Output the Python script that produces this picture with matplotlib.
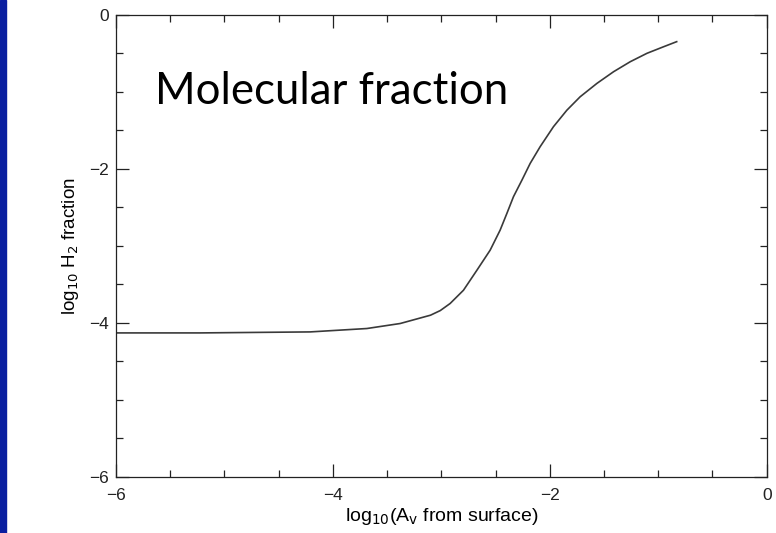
import numpy as np
import matplotlib
matplotlib.use("Agg")
import matplotlib.pyplot as plt
from matplotlib.ticker import MultipleLocator

# log10(Av from surface) and log10 H2 fraction
log_av = [-6.0, -5.225, -4.21, -3.687, -3.38, -3.10, -3.01, -2.919, -2.796,
          -2.672, -2.550, -2.458, -2.396, -2.335, -2.257, -2.181, -2.089,
          -1.966, -1.843, -1.72, -1.565, -1.412, -1.258, -1.104, -0.951, -0.83]
log_h2 = [-4.13, -4.13, -4.117, -4.073, -4.008, -3.90, -3.84, -3.748, -3.576,
          -3.316, -3.056, -2.796, -2.580, -2.362, -2.147, -1.930, -1.713,
          -1.453, -1.240, -1.065, -0.891, -0.740, -0.610, -0.501, -0.416, -0.35]

plt.rcParams['font.family'] = ['Liberation Sans', 'DejaVu Sans']

fig = plt.figure(figsize=(7.76, 5.33), dpi=100)
fig.patches.append(plt.Rectangle((0, 0), 6 / 776, 1, transform=fig.transFigure,
                                 color='#0a1fa0', zorder=0))

ax = fig.add_axes([116 / 776, 1 - 477 / 533, 650.7 / 776, 462.3 / 533])
ax.plot(log_av, log_h2, color='#3a3a3a', lw=1.2)

ax.set_xlim(-6, 0)
ax.set_ylim(-6, 0)
ax.xaxis.set_major_locator(MultipleLocator(2))
ax.xaxis.set_minor_locator(MultipleLocator(0.5))
ax.yaxis.set_major_locator(MultipleLocator(2))
ax.yaxis.set_minor_locator(MultipleLocator(0.5))
ax.tick_params(which='both', direction='in', top=True, right=True,
               labelsize=12.5, width=0.9, colors='#222222')
ax.tick_params(which='major', length=9.5)
ax.tick_params(which='minor', length=4.8)
ax.tick_params(axis='x', which='major', pad=8)
ax.tick_params(axis='y', which='major', pad=5)
for s in ax.spines.values():
    s.set_linewidth(0.9)
    s.set_color('#222222')

ax.set_xlabel(r'log$_{10}$(A$_\mathrm{v}$ from surface)', fontsize=14, labelpad=2)
ax.set_ylabel(r'log$_{10}$ H$_2$ fraction', fontsize=13.5, labelpad=6)

ax.text(155 / 776, 1 - 91 / 533, 'Molecular fraction', transform=fig.transFigure,
        fontsize=31.5, family=['Lato', 'DejaVu Sans'], va='center', ha='left')

fig.savefig('out.png', dpi=100)
